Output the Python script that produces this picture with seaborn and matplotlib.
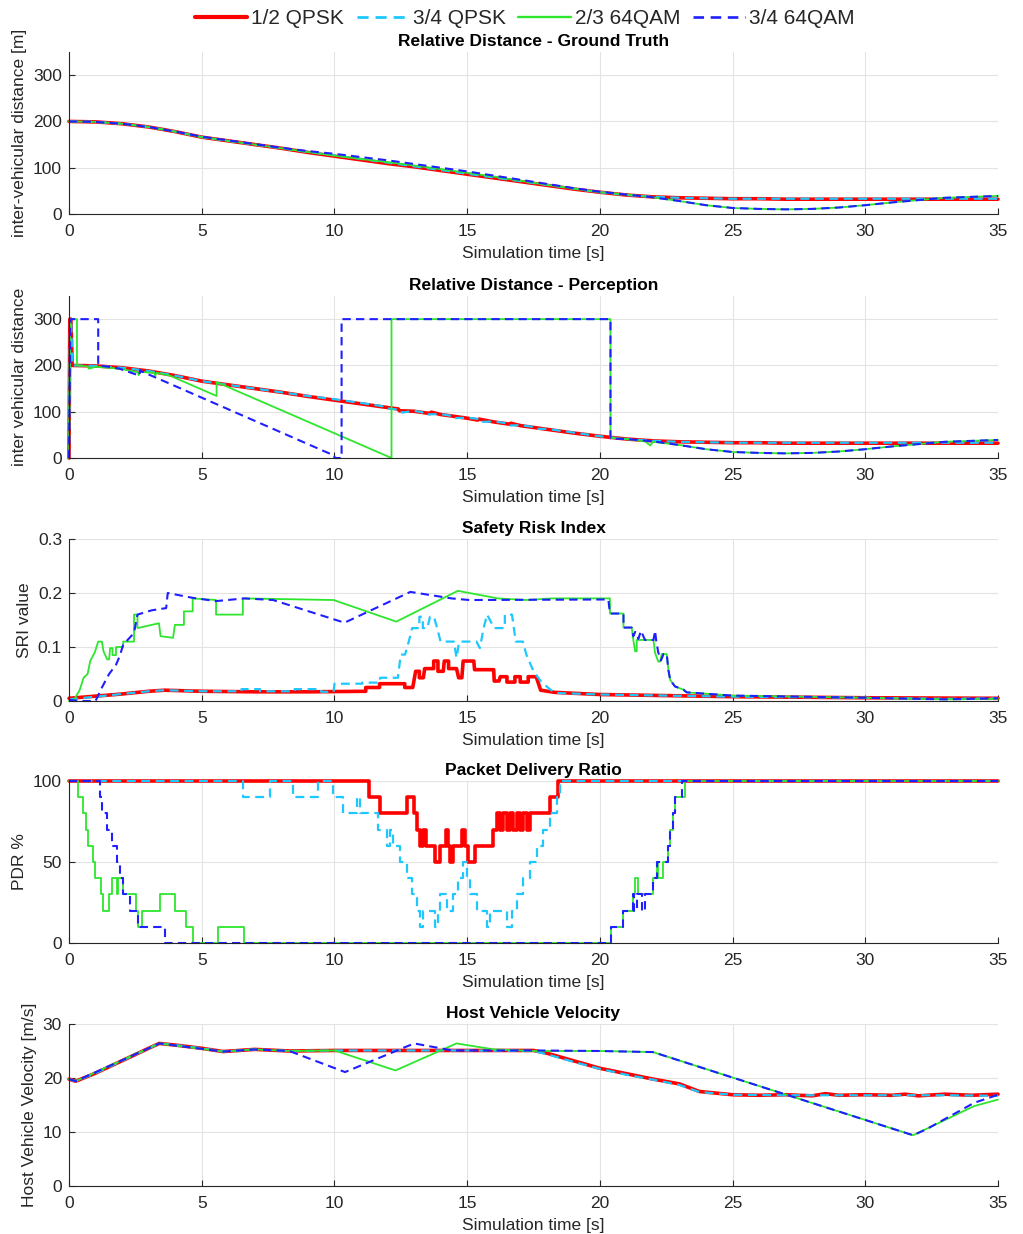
import matplotlib
matplotlib.use('Agg')
import matplotlib.pyplot as plt
from matplotlib.lines import Line2D
import pandas as pd
import seaborn as sns

sns.set_theme(style='whitegrid')
plt.rcParams['font.family'] = ['Liberation Sans', 'DejaVu Sans']

# ---------------- data ----------------
series_names = ['1/2 QPSK', '3/4 QPSK', '2/3 64QAM', '3/4 64QAM']
series_colors = ['#ff0000', '#1ec8ff', '#2ee62e', '#1f1fff']

# Panel 1: ground truth distance (t = 0..35 s)
gt_time = list(range(0, 36))
gt_red = [200, 199, 195, 188, 178, 166, 158, 150, 142, 133, 125, 117, 109, 102, 94, 86, 78, 70, 62, 54,
          47, 41, 37, 35, 34, 33, 33, 32, 32, 32, 32, 32, 32, 32, 32, 32]
gt_cyan = [200, 199, 195, 188, 178, 166, 158, 150, 142, 134, 127, 119, 111, 103, 95, 87, 79, 71, 63, 55,
           47, 41, 37, 35, 34, 33, 33, 33, 33, 33, 33, 33, 33, 33, 33, 33]
gt_green = [200, 199, 195, 188, 178, 166, 158, 150, 142, 134, 126, 119, 112, 105, 97, 89, 81, 72, 63, 55,
            47, 42, 36, 28, 19, 13, 11, 10, 11, 14, 19, 25, 30, 35, 37, 39]
gt_blue = [200, 199, 195, 188, 178, 167, 159, 151, 143, 136, 130, 123, 116, 108, 100, 92, 83, 74, 65, 56,
           48, 42, 36, 28, 19, 13, 11, 10, 11, 14, 19, 25, 30, 35, 37, 39]

# Panel 2: perceived distance (time, value)
perc_red = [(0, 0), (0.03, 300), (0.07, 300), (0.12, 200), (1, 199), (2, 195), (3, 188), (4, 178), (5, 166),
            (6, 158), (7, 150), (8, 142), (9, 133), (10, 125), (11, 117), (12, 109), (12.4, 106), (12.45, 102),
            (13, 101), (13.6, 96), (13.65, 99), (14, 94), (14.5, 90), (15, 86), (15.4, 82), (15.45, 84),
            (16, 78), (16.6, 73), (16.65, 75), (17, 70), (17.5, 66), (18, 62), (19, 54), (20, 47), (21, 41),
            (22, 37), (23, 35), (24, 34), (25, 33), (26, 33), (27, 32), (30, 32), (35, 32)]
perc_cyan = [(0, 0), (0.04, 300), (0.08, 300), (0.13, 200), (1, 199), (2, 195), (3, 188), (4, 178), (5, 166),
             (6, 158), (7, 150), (8, 142), (9, 134), (10, 127), (11, 119), (11.8, 112), (11.85, 108),
             (12.5, 104), (12.55, 98), (13, 102), (13.3, 99), (13.35, 94), (14, 95), (14.4, 91), (14.45, 86),
             (15, 87), (15.5, 84), (15.55, 78), (16, 79), (16.5, 75), (16.55, 70), (17, 71), (17.5, 67),
             (17.55, 63), (18, 63), (19, 55), (20, 47), (21, 41), (22, 37), (23, 35), (24, 34), (25, 33),
             (35, 33)]
perc_green = [(0, 0), (0.04, 300), (0.3, 300), (0.3, 200), (0.7, 198), (0.75, 193), (1, 197), (1.5, 195),
              (2, 192), (2.6, 185), (2.62, 179), (2.68, 186), (3.2, 184), (3.25, 178), (3.3, 184), (3.8, 178),
              (5.56, 134), (5.56, 164), (12.15, 0), (12.15, 300), (20.4, 300), (20.4, 44), (21, 41),
              (21.7, 36), (21.9, 27), (22, 35), (23, 28), (24, 19), (25, 13), (26, 11), (27, 10), (28, 11),
              (29, 14), (30, 19), (31, 25), (32, 30), (33, 35), (34, 37), (35, 39)]
perc_blue = [(0, 0), (0.05, 300), (1.1, 300), (1.1, 200), (1.5, 197), (1.9, 193), (2.65, 178), (2.68, 190),
             (2.7, 188), (10.0, 5), (10.0, 0), (10.27, 0), (10.27, 300), (20.4, 300), (20.4, 42), (21, 41),
             (22, 36), (23, 28), (24, 19), (25, 13), (26, 11), (27, 10), (28, 11), (29, 14), (30, 19),
             (31, 25), (32, 30), (33, 35), (34, 37), (35, 39)]

# Panel 3: safety risk index (time, value)
sri_red = [(0, 0.005), (1, 0.009), (2, 0.013), (3, 0.018), (3.6, 0.02), (5, 0.018), (7, 0.017), (9, 0.017),
           (11.18, 0.018), (11.18, 0.025), (11.7, 0.025), (11.7, 0.032), (12.65, 0.032), (12.65, 0.025),
           (12.95, 0.025), (13.06, 0.055), (13.2, 0.055), (13.2, 0.043), (13.35, 0.043), (13.4, 0.06),
           (13.74, 0.06), (13.74, 0.074), (13.9, 0.074), (13.9, 0.055), (14.1, 0.055), (14.14, 0.074),
           (14.3, 0.074), (14.3, 0.06), (14.6, 0.06), (14.68, 0.043), (14.8, 0.043), (14.85, 0.074),
           (15.25, 0.074), (15.28, 0.058), (16.0, 0.058), (16.02, 0.037), (16.2, 0.037), (16.25, 0.045),
           (16.5, 0.045), (16.5, 0.035), (16.8, 0.035), (16.8, 0.045), (17.0, 0.045), (17.0, 0.035),
           (17.3, 0.035), (17.3, 0.045), (17.6, 0.045), (17.77, 0.02), (18.3, 0.016), (20, 0.012),
           (25, 0.008), (30, 0.006), (35, 0.005)]
sri_cyan = [(0, 0.003), (1, 0.008), (2, 0.013), (3, 0.018), (3.6, 0.02), (5, 0.018), (6.5, 0.018),
            (6.5, 0.022), (7.2, 0.022), (7.2, 0.018), (8.5, 0.018), (8.5, 0.022), (9.5, 0.022), (9.5, 0.017),
            (9.97, 0.017), (10.0, 0.032), (11.05, 0.032), (11.05, 0.034), (11.72, 0.034), (11.72, 0.043),
            (12.39, 0.043), (12.5, 0.086), (12.66, 0.086), (12.8, 0.11), (12.93, 0.135), (13.2, 0.135),
            (13.2, 0.156), (13.33, 0.156), (13.33, 0.135), (13.5, 0.135), (13.6, 0.156), (13.75, 0.156),
            (13.87, 0.135), (14.0, 0.11), (14.5, 0.11), (14.6, 0.08), (14.7, 0.11), (15.35, 0.11),
            (15.48, 0.098), (15.62, 0.135), (15.75, 0.16), (16.02, 0.135), (16.42, 0.135), (16.42, 0.16),
            (16.69, 0.16), (16.83, 0.11), (17.1, 0.11), (17.23, 0.086), (17.5, 0.055), (17.77, 0.037),
            (18.04, 0.025), (18.3, 0.015), (20, 0.012), (25, 0.008), (30, 0.006), (33, 0.004), (35, 0.005)]
sri_green = [(0, 0), (0.16, 0), (0.4, 0.02), (0.55, 0.043), (0.7, 0.05), (0.8, 0.074), (0.97, 0.09),
             (1.1, 0.11), (1.24, 0.11), (1.3, 0.092), (1.44, 0.077), (1.51, 0.077), (1.55, 0.098),
             (1.64, 0.098), (1.64, 0.085), (1.77, 0.085), (1.77, 0.1), (2.04, 0.1), (2.04, 0.11),
             (2.45, 0.11), (2.45, 0.16), (2.58, 0.16), (2.58, 0.135), (3.39, 0.144), (3.45, 0.12),
             (3.92, 0.117), (3.99, 0.141), (4.33, 0.141), (4.33, 0.166), (4.66, 0.166), (4.66, 0.19),
             (5.54, 0.187), (5.54, 0.16), (6.55, 0.16), (6.55, 0.19), (9.97, 0.187), (12.33, 0.147),
             (14.65, 0.204), (16.16, 0.19), (17.23, 0.187), (18.2, 0.19), (20.38, 0.19), (20.38, 0.162),
             (20.89, 0.162), (20.89, 0.136), (21.2, 0.136), (21.26, 0.113), (21.33, 0.092), (21.39, 0.092),
             (21.39, 0.113), (22.02, 0.113), (22.08, 0.089), (22.2, 0.073), (22.27, 0.073), (22.33, 0.087),
             (22.52, 0.087), (22.58, 0.058), (22.65, 0.039), (22.83, 0.027), (23.15, 0.021), (23.27, 0.016),
             (25, 0.01), (30, 0.006), (33, 0.003), (35, 0.004)]
sri_blue = [(0, 0.002), (0.4, 0.0), (1.0, 0.0), (1.24, 0.025), (1.51, 0.05), (1.77, 0.067), (1.91, 0.083),
            (2.04, 0.104), (2.45, 0.126), (2.58, 0.16), (3.12, 0.168), (3.66, 0.172), (3.72, 0.2),
            (4.66, 0.191), (5.54, 0.185), (6.61, 0.19), (7.69, 0.187), (10.38, 0.145), (12.86, 0.202),
            (14.41, 0.19), (15.08, 0.187), (20.32, 0.188), (20.38, 0.162), (20.89, 0.162), (20.89, 0.136),
            (21.2, 0.136), (21.26, 0.12), (21.33, 0.128), (21.45, 0.115), (21.55, 0.13), (21.7, 0.113),
            (22.02, 0.113), (22.08, 0.13), (22.12, 0.113), (22.2, 0.09), (22.3, 0.075), (22.4, 0.087),
            (22.52, 0.087), (22.58, 0.058), (22.65, 0.039), (22.83, 0.027), (23.15, 0.021), (23.27, 0.016),
            (25, 0.01), (30, 0.006), (33, 0.003), (35, 0.005)]

# Panel 4: packet delivery ratio, step changes (time, value)
pdr_red = [(0, 100), (11.32, 90), (11.72, 80), (12.75, 90), (13.0, 80), (13.12, 70), (13.22, 60), (13.33, 70),
           (13.45, 60), (13.79, 50), (13.98, 60), (14.2, 70), (14.29, 60), (14.36, 50), (14.48, 60),
           (14.8, 70), (14.92, 60), (15.05, 50), (15.3, 60), (15.99, 70), (16.11, 80), (16.24, 70),
           (16.36, 80), (16.49, 70), (16.62, 80), (16.74, 70), (16.87, 80), (16.99, 70), (17.12, 80),
           (17.24, 70), (17.37, 80), (18.12, 90), (18.44, 100), (35, 100)]
pdr_cyan = [(0, 100), (6.57, 90), (7.57, 100), (8.45, 90), (9.39, 100), (9.96, 90), (10.31, 80), (10.85, 90),
            (10.95, 80), (11.65, 70), (11.97, 60), (12.1, 70), (12.2, 60), (12.47, 50), (12.72, 40),
            (12.91, 30), (13.1, 20), (13.22, 10), (13.35, 20), (13.79, 10), (13.92, 20), (13.98, 30),
            (14.23, 20), (14.48, 30), (14.67, 40), (14.86, 50), (14.98, 40), (15.11, 30), (15.36, 20),
            (15.74, 10), (15.86, 20), (16.49, 10), (16.68, 20), (16.87, 30), (17.12, 40), (17.37, 50),
            (17.62, 60), (17.87, 70), (18.12, 80), (18.37, 90), (18.5, 100), (35, 100)]
pdr_green = [(0, 100), (0.35, 90), (0.54, 80), (0.64, 70), (0.73, 60), (0.89, 50), (0.98, 40), (1.21, 30),
             (1.29, 20), (1.52, 30), (1.61, 40), (1.8, 30), (1.86, 40), (2.05, 30), (2.52, 20), (2.61, 10),
             (2.74, 20), (3.43, 30), (3.99, 20), (4.41, 10), (4.68, 0), (5.63, 10), (6.61, 0), (20.41, 10),
             (20.89, 20), (21.24, 30), (21.33, 40), (21.45, 30), (22.02, 40), (22.14, 50), (22.2, 40),
             (22.39, 50), (22.58, 60), (22.64, 70), (22.77, 80), (22.83, 90), (23.21, 100), (35, 100)]
pdr_blue = [(0, 100), (1.17, 90), (1.23, 80), (1.45, 70), (1.61, 60), (1.8, 50), (1.93, 40), (2.05, 30),
            (2.3, 20), (2.61, 10), (3.63, 0), (20.41, 10), (20.89, 20), (21.24, 30), (21.3, 20), (21.4, 30),
            (21.6, 20), (21.7, 30), (22.02, 40), (22.14, 50), (22.39, 50), (22.58, 60), (22.64, 70),
            (22.77, 80), (22.83, 90), (23.1, 100), (35, 100)]

# Panel 5: host vehicle velocity (time, value)
vel_red = [(0, 19.8), (0.25, 19.4), (1, 20.9), (2, 23.2), (3, 25.5), (3.4, 26.4), (4, 26.1), (5, 25.5),
           (5.8, 24.9), (7, 25.3), (8.3, 25.0), (10, 25.1), (12, 25.1), (15, 25.1), (17.5, 25.1), (18, 24.6),
           (19, 23.2), (20, 21.8), (21, 20.8), (22, 19.8), (23, 18.9), (23.75, 17.5), (25, 16.9), (26, 16.8),
           (27, 16.9), (28, 16.7), (28.5, 17.1), (29, 16.8), (30, 16.9), (31, 16.8), (31.5, 17.0),
           (32, 16.7), (33, 17.0), (34, 16.8), (35, 17.0)]
vel_cyan = [(0, 19.8), (0.25, 19.4), (1, 20.9), (2, 23.2), (3, 25.5), (3.4, 26.4), (4, 26.1), (5, 25.5),
            (5.8, 24.9), (7, 25.3), (8.3, 25.0), (10, 25.1), (12, 25.1), (15, 25.1), (17.5, 25.0), (18, 24.4),
            (19, 23.0), (20, 21.7), (21, 20.6), (22, 19.7), (23, 18.7), (23.75, 17.4), (25, 16.9),
            (27, 16.8), (30, 16.8), (33, 16.8), (35, 16.7)]
vel_green = [(0, 19.8), (0.25, 19.4), (3.4, 26.4), (5.8, 24.9), (7, 25.3), (8.3, 25.0), (10, 25.1),
             (12.3, 21.4), (14.6, 26.4), (16, 25.3), (17.5, 25.0), (20, 25.0), (22, 24.8), (31.8, 9.4),
             (34.1, 14.8), (35, 16.0)]
vel_blue = [(0, 19.8), (0.25, 19.4), (3.4, 26.4), (5.8, 24.9), (7, 25.3), (8.3, 25.0), (10.4, 21.1),
            (13, 26.4), (14.45, 25.1), (17.5, 25.1), (20, 25.0), (22, 24.8), (31.8, 9.4), (32.3, 10.5),
            (34.1, 15.4), (35, 16.9)]

# ---------------- style ----------------
line_widths = [2.6, 1.6, 1.3, 1.5]
line_styles = ['-', (0, (4, 2.5)), '-', (0, (4, 2.5))]

fig = plt.figure(figsize=(10.23, 12.34), dpi=100)
left, width, height = 69 / 1023, 929 / 1023, 162 / 1234
bottom_px = [214, 458, 701, 943, 1186]
axes = [fig.add_axes([left, 1 - b / 1234, width, height]) for b in bottom_px]


def draw(ax, pts, idx, steps=False):
    df = pd.DataFrame(pts, columns=['t', 'v'])
    sns.lineplot(data=df, x='t', y='v', ax=ax, sort=False, estimator=None,
                 color=series_colors[idx], linewidth=line_widths[idx],
                 linestyle=line_styles[idx],
                 drawstyle='steps-post' if steps else 'default',
                 legend=False, clip_on=False)


gt_series = [gt_red, gt_cyan, gt_green, gt_blue]
for i, vals in enumerate(gt_series):
    draw(axes[0], list(zip(gt_time, vals)), i)
for i, pts in enumerate([perc_red, perc_cyan, perc_green, perc_blue]):
    draw(axes[1], pts, i)
for i, pts in enumerate([sri_red, sri_cyan, sri_green, sri_blue]):
    draw(axes[2], pts, i)
for i, pts in enumerate([pdr_red, pdr_cyan, pdr_green, pdr_blue]):
    draw(axes[3], pts, i, steps=True)
for i, pts in enumerate([vel_red, vel_cyan, vel_green, vel_blue]):
    draw(axes[4], pts, i)

titles = ['Relative Distance - Ground Truth', 'Relative Distance - Perception', 'Safety Risk Index',
          'Packet Delivery Ratio', 'Host Vehicle Velocity']
ylabels = ['inter-vehicular distance [m]', 'inter vehicular distance', 'SRI value', 'PDR %',
           'Host Vehicle Velocity [m/s]']
ylims = [(0, 350), (0, 350), (0, 0.3), (0, 100), (0, 30)]
yticks = [[0, 100, 200, 300], [0, 100, 200, 300], [0, 0.1, 0.2, 0.3], [0, 50, 100], [0, 10, 20, 30]]
yticklabels = [['0', '100', '200', '300'], ['0', '100', '200', '300'], ['0', '0.1', '0.2', '0.3'],
               ['0', '50', '100'], ['0', '10', '20', '30']]

for ax, ti, yl, lim, yt, ytl in zip(axes, titles, ylabels, ylims, yticks, yticklabels):
    ax.set_xlim(0, 35)
    ax.set_ylim(*lim)
    ax.set_xticks(range(0, 36, 5))
    ax.set_yticks(yt)
    ax.set_yticklabels(ytl)
    ax.set_title(ti, fontsize=12.5, fontweight='bold', color='#000000', pad=4)
    ax.set_xlabel('Simulation time [s]', fontsize=12.5, color='#262626', labelpad=5)
    ax.set_ylabel(yl, fontsize=12.5, color='#262626', labelpad=4)
    ax.grid(True, color='#e3e3e3', linewidth=0.8)
    ax.set_facecolor('white')
    for s in ['top', 'right']:
        ax.spines[s].set_visible(False)
    for s in ['left', 'bottom']:
        ax.spines[s].set_visible(True)
        ax.spines[s].set_color('#262626')
        ax.spines[s].set_linewidth(0.8)
    ax.tick_params(axis='both', direction='in', length=4, width=0.8, colors='#262626',
                   labelsize=12.5, bottom=True, left=True)
    ax.tick_params(axis='x', pad=7)
    ax.tick_params(axis='y', pad=5)

handles = [Line2D([], [], color=series_colors[i], linewidth=line_widths[i] + 0.4, linestyle=line_styles[i])
           for i in range(4)]
fig.legend(handles, series_names, loc='upper center', bbox_to_anchor=(0.513, 1.008), ncol=4,
           frameon=False, fontsize=15, handlelength=2.5, columnspacing=0.6, handletextpad=0.2)

fig.savefig('out.png', dpi=100, facecolor='white')
